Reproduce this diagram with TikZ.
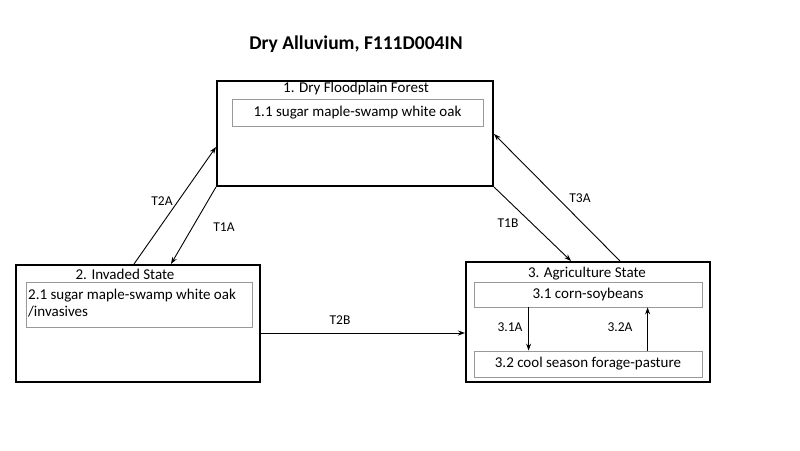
\documentclass[tikz,border=0pt]{standalone}
\usepackage{fontspec}
\setmainfont{Carlito}
\usetikzlibrary{arrows.meta,calc}
\begin{document}
\begin{tikzpicture}[x=1pt,y=-1pt,
  statebox/.style={draw=black,line width=2pt,minimum width=#1,inner sep=0pt},
  phase/.style={draw=gray!80,line width=0.8pt,inner sep=0pt},
  ttl/.style={font=\fontsize{15}{17}\selectfont,inner sep=0pt},
  txt/.style={font=\fontsize{15}{17}\selectfont},
  lbl/.style={font=\fontsize{13.5}{15}\selectfont,inner sep=1pt},
  arr/.style={draw=black,line width=0.9pt,-{Stealth[length=7pt,width=5pt]}}]
\useasboundingbox (0,0) rectangle (800,450);
\fill[white] (0,0) rectangle (800,450);
\node[font=\bfseries\fontsize{19.5}{21}\selectfont] (title) at (356,44) {Dry Alluvium, F111D004IN};
% state boxes
\node[statebox=276pt,minimum height=105pt] (b1) at (355,133.5) {};
\node[statebox=244pt,minimum height=117pt] (b2) at (138,323.5) {};
\node[statebox=244pt,minimum height=120pt] (b3) at (588,322) {};
% titles
\node[ttl] (t1) at (356,88) {1. Dry Floodplain Forest};
\node[ttl] (t2) at (125,274) {2. Invaded State};
\node[ttl] (t3) at (587,274) {3. Agriculture State};
% phases
\node[phase,minimum width=251pt,minimum height=27pt,txt] (s11) at (357.5,112.5) {1.1 sugar maple-swamp white oak};
\node[phase,minimum width=226pt,minimum height=45pt] (s21) at (139,304.5) {};
\node[txt,anchor=west,align=left,inner sep=0pt] (s21t) at (28,303.5) {2.1 sugar maple-swamp white oak\\/invasives};
\node[phase,minimum width=228pt,minimum height=25pt,txt] (s31) at (588,294.5) {3.1 corn-soybeans};
\node[phase,minimum width=228pt,minimum height=26pt,txt] (s32) at (588,364) {3.2 cool season forage-pasture};
% transitions
\draw[arr] ($(b2.north west)+(119,0)$) -- ($(b1.north west)+(0,67)$);
\draw[arr] (b1.south west) -- ($(b2.north west)+(156,0)$);
\draw[arr] (b1.south east) -- ($(b3.north west)+(106,0)$);
\draw[arr] ($(b3.north west)+(155,0)$) -- ($(b1.north east)+(0,54)$);
\coordinate (c2b) at ($(b2.east)+(0,9.5)$);
\draw[arr] (c2b) -- (c2b -| b3.west);
\draw[arr] ($(s31.south west)+(55,0)$) -- ($(s32.north west)+(55,0)$);
\draw[arr] ($(s32.north west)+(174,0)$) -- ($(s31.south west)+(174,0)$);
% labels
\node[lbl] (l2a) at (162,201) {T2A};
\node[lbl] (l1a) at (224,227) {T1A};
\node[lbl] (l1b) at (508,223) {T1B};
\node[lbl] (l3a) at (580,198) {T3A};
\node[lbl] (l2b) at (340,320) {T2B};
\node[lbl] (l31) at (510,327) {3.1A};
\node[lbl] (l32) at (620,327) {3.2A};
\end{tikzpicture}
\end{document}
